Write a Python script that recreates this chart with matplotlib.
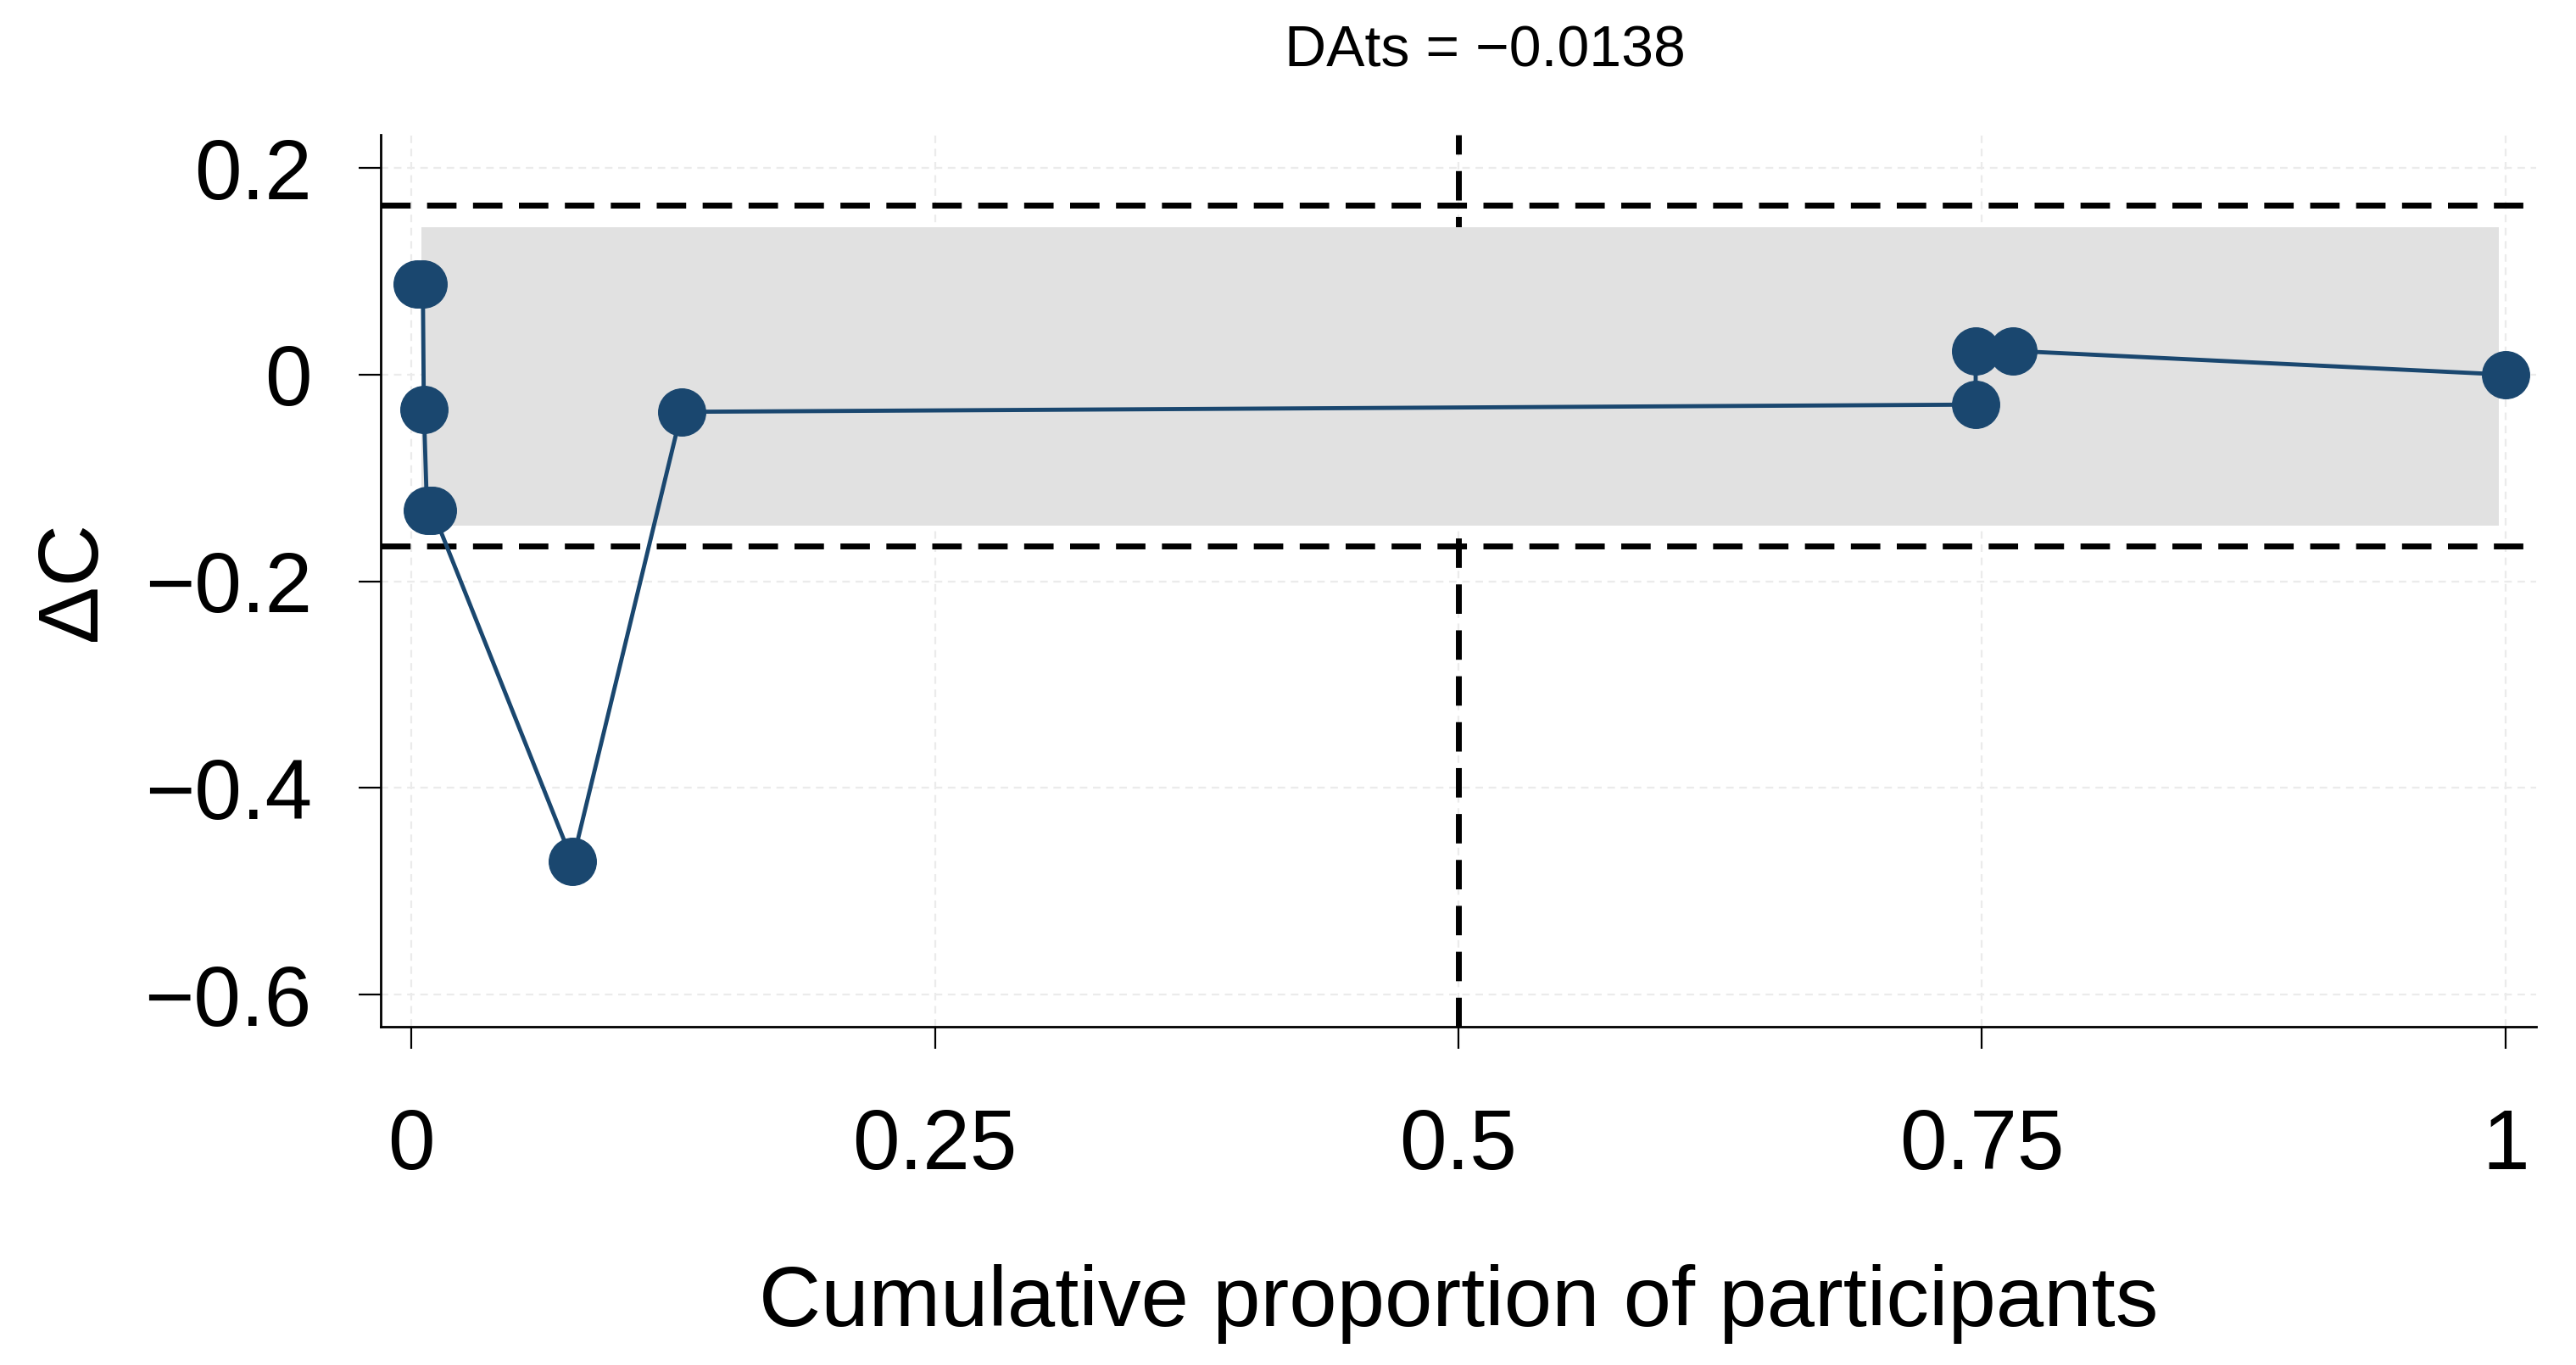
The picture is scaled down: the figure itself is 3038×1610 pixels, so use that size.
import matplotlib
matplotlib.use("Agg")
import matplotlib.pyplot as plt

# values
cum_prop = [0.003, 0.0055, 0.006, 0.0075, 0.010, 0.077, 0.129, 0.747, 0.747, 0.765, 1.0]
delta_c = [0.088, 0.088, -0.034, -0.131, -0.131, -0.471, -0.036, -0.029, 0.023, 0.023, 0.0]
band_x = [0.005, 0.997]
band_lo, band_hi = -0.146, 0.143
limit_lo, limit_hi = -0.166, 0.164
mid_x = 0.5
title_txt = "DAts = \u22120.0138"
xticks = [0, 0.25, 0.5, 0.75, 1]
xtick_labels = ["0", "0.25", "0.5", "0.75", "1"]
yticks = [0.2, 0, -0.2, -0.4, -0.6]
ytick_labels = ["0.2", "0", "\u22120.2", "\u22120.4", "\u22120.6"]

plt.rcParams["font.family"] = ["Liberation Sans", "DejaVu Sans"]
NAVY = "#1a476f"

fig = plt.figure(figsize=(30.38, 16.10), dpi=100)
ax = fig.add_axes([0.1478, 0.2478, 0.8367, 0.6534])

ax.set_xlim(-0.0146, 1.0146)
ax.set_ylim(-0.631, 0.232)
ax.set_xticks(xticks)
ax.set_xticklabels(xtick_labels)
ax.set_yticks(yticks)
ax.set_yticklabels(ytick_labels)

ax.grid(True, color="#ebebeb", ls=(0, (4, 3)), lw=1.6, zorder=0)
ax.set_axisbelow(True)

ax.axvline(mid_x, color="black", lw=5, dashes=(5.0, 2.8), zorder=1)
ax.fill_between(band_x, band_lo, band_hi, color="#e1e1e1", lw=0, zorder=2)
for yy in (limit_lo, limit_hi):
    ax.axhline(yy, color="black", lw=5, dashes=(5.0, 2.8), zorder=3)

ax.plot(cum_prop, delta_c, "-", color=NAVY, lw=3.5, zorder=4)
ax.plot(cum_prop, delta_c, "o", color=NAVY, mec=NAVY, ms=40, zorder=5)

for s in ("top", "right"):
    ax.spines[s].set_visible(False)
for s in ("left", "bottom"):
    ax.spines[s].set_linewidth(2)

ax.tick_params(axis="both", length=18.5, width=1.6, labelsize=72)
ax.tick_params(axis="y", pad=40)
ax.tick_params(axis="x", pad=50)

ax.set_xlabel("Cumulative proportion of participants", fontsize=73)
ax.xaxis.label.set_va("baseline")
ax.xaxis.set_label_coords(0.5, -0.3356)
ax.set_ylabel("\u0394C", fontsize=73)
ax.yaxis.label.set_va("baseline")
ax.yaxis.set_label_coords(-0.1322, 0.5)

ax.text(0.5122, 1.077, title_txt, transform=ax.transAxes, ha="center",
        va="baseline", fontsize=49)

fig.savefig("out.png", dpi=100)
